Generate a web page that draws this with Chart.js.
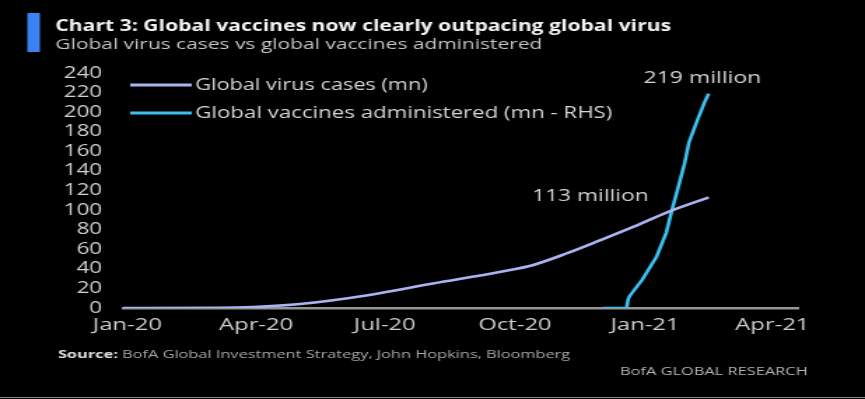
<!DOCTYPE html>
<html>
<head>
<meta charset="utf-8">
<script src="https://cdn.jsdelivr.net/npm/chart.js@4.4.1/dist/chart.umd.min.js"></script>
<style>
  html, body { margin: 0; padding: 0; background: #000; overflow: hidden; }
  #wrap { position: absolute; left: 0; top: 0; transform-origin: 0 0; }
  #edge { position: absolute; left: 0; top: 397px; width: 865px; height: 1px; background: #8a8a8a; }
</style>
</head>
<body>
<div id="wrap"><canvas id="c"></canvas></div>
<div id="edge"></div>
<script>
// ---- data ----
const caseDates = ["2019-12-29", "2020-03-05", "2020-03-30", "2020-05-02", "2020-06-19", "2020-08-04",
    "2020-09-21", "2020-10-14", "2020-11-07", "2020-11-30", "2020-12-24", "2021-01-17", "2021-02-15"];
const caseValues = [0, 0.2, 1, 4, 13, 25, 37, 44, 56, 69, 83, 98, 113];

const vaccineDates = ["2020-12-02", "2020-12-19", "2020-12-20", "2020-12-21", "2020-12-30", "2021-01-09",
    "2021-01-16", "2021-01-20", "2021-01-24", "2021-01-29", "2021-02-01", "2021-02-07", "2021-02-12",
    "2021-02-15"];
const vaccineValues = [0, 0, 9, 12, 29, 52, 77, 100, 121, 148, 169, 192, 210, 219];

const seriesNames = ["Global virus cases (mn)", "Global vaccines administered (mn - RHS)"];
const endLabels = ["113 million", "219 million"];

const tickDates = ["2020-01-01", "2020-04-01", "2020-07-01", "2020-10-01", "2021-01-01", "2021-04-01"];
const tickLabels = ["Jan-20", "Apr-20", "Jul-20", "Oct-20", "Jan-21", "Apr-21"];
const yTicks = [0, 20, 40, 60, 80, 100, 120, 140, 160, 180, 200, 220, 240];

const titleText = "Chart 3: Global vaccines now clearly outpacing global virus";
const subtitleText = "Global virus cases vs global vaccines administered";
const sourceLead = "Source:";
const sourceText = " BofA Global Investment Strategy, John Hopkins, Bloomberg";
const brandText = "BofA GLOBAL RESEARCH";

// the original image is stretched sideways, so draw narrow and stretch the canvas
const W = 618, H = 399, SX = 865 / W;
const FONT = "'Open Sans', 'DejaVu Sans', sans-serif";

// days since 1 Jan 2020
function dayOf(s) {
    const [y, m, d] = s.split("-").map(Number);
    return (Date.UTC(y, m - 1, d) - Date.UTC(2020, 0, 1)) / 864e5;
}
const toPoints = (dates, vals) => dates.map((d, i) => ({ x: dayOf(d), y: vals[i] }));
const tickDays = tickDates.map(dayOf);

const canvas = document.getElementById("c");
canvas.width = W;
canvas.height = H;
const wrap = document.getElementById("wrap");
wrap.style.width = W + "px";
wrap.style.height = H + "px";
wrap.style.transform = `scaleX(${SX})`;

// draw text squeezed/stretched to a given width (in canvas units)
function fitText(ctx, text, x, y, targetW, align) {
    const w = ctx.measureText(text).width;
    const k = targetW / w;
    ctx.save();
    ctx.translate(x, y);
    ctx.scale(k, 1);
    ctx.textAlign = align || "left";
    ctx.fillText(text, 0, 0);
    ctx.restore();
}

const decor = {
    id: "decor",
    afterDraw(chart) {
        const ctx = chart.ctx;
        ctx.save();
        ctx.textBaseline = "middle";

        // title block
        ctx.fillStyle = "#3b82f2";
        ctx.fillRect(19.5, 13, 9, 39);
        ctx.fillStyle = "#f2f2f2";
        ctx.font = `bold 16px ${FONT}`;
        fitText(ctx, titleText, 39.5, 26, 440);
        ctx.fillStyle = "#c4c4c4";
        ctx.font = `15px ${FONT}`;
        fitText(ctx, subtitleText, 39.5, 45, 348);

        // legend inside the plot
        const ds = chart.data.datasets;
        const legendY = [85, 113];
        const legendW = [166, 298];
        ds.forEach((d, i) => {
            ctx.strokeStyle = d.borderColor;
            ctx.lineWidth = 3;
            ctx.beginPath();
            ctx.moveTo(93, legendY[i]);
            ctx.lineTo(137, legendY[i]);
            ctx.stroke();
            ctx.fillStyle = "#d6d6d6";
            ctx.font = `16px ${FONT}`;
            fitText(ctx, d.label, 139.5, legendY[i], legendW[i]);
        });

        // end-of-line labels
        ctx.fillStyle = "#d6d6d6";
        ctx.font = `16px ${FONT}`;
        const m0 = chart.getDatasetMeta(0).data;
        const p0 = m0[m0.length - 1];
        fitText(ctx, endLabels[0], p0.x - 43, p0.y - 1, 83, "right");
        const m1 = chart.getDatasetMeta(1).data;
        const p1 = m1[m1.length - 1];
        ctx.save();
        ctx.translate(p1.x - 4.5, p1.y - 15);
        const w1 = ctx.measureText(endLabels[1]).width;
        ctx.scale(84 / w1, 1);
        ctx.textAlign = "center";
        ctx.fillText(endLabels[1], 0, 0);
        ctx.restore();

        // source line
        ctx.font = `bold 11px ${FONT}`;
        const wLead = ctx.measureText(sourceLead).width;
        ctx.font = `11px ${FONT}`;
        const wRest = ctx.measureText(sourceText).width;
        const k = 366 / (wLead + wRest);
        ctx.save();
        ctx.translate(41.4, 355);
        ctx.scale(k, 1);
        ctx.fillStyle = "#e0e0e0";
        ctx.font = `bold 11px ${FONT}`;
        ctx.fillText(sourceLead, 0, 0);
        ctx.fillStyle = "#a8a8a8";
        ctx.font = `11px ${FONT}`;
        ctx.fillText(sourceText, wLead, 0);
        ctx.restore();
        ctx.fillStyle = "#b4b4b4";
        ctx.font = `11px ${FONT}`;
        fitText(ctx, brandText, 443, 372, 134);

        ctx.restore();
    },
};

new Chart(canvas, {
    type: "line",
    data: {
        datasets: [
            {
                label: seriesNames[0],
                data: toPoints(caseDates, caseValues),
                borderColor: "#aab4f2",
                borderWidth: 2.6,
                pointRadius: 0,
                cubicInterpolationMode: "monotone",
            },
            {
                label: seriesNames[1],
                data: toPoints(vaccineDates, vaccineValues),
                borderColor: "#3cc0f0",
                borderWidth: 2.6,
                pointRadius: 0,
                tension: 0,
            },
        ],
    },
    options: {
        responsive: false,
        animation: false,
        layout: { padding: { top: 73, right: 48, left: 0, bottom: 0 } },
        plugins: {
            legend: { display: false },
            tooltip: { enabled: false },
        },
        scales: {
            x: {
                type: "linear",
                min: -3,
                max: 474,
                afterFit: (s) => { s.height = 91; },
                afterBuildTicks: (s) => { s.ticks = tickDays.map((v) => ({ value: v })); },
                grid: { display: false, drawTicks: false },
                border: { display: true, color: "#949494", width: 2.5 },
                ticks: {
                    autoSkip: false,
                    maxRotation: 0,
                    padding: 7,
                    color: "#cfcfcf",
                    font: { family: FONT, size: 17 },
                    callback: (v) => tickLabels[tickDays.indexOf(v)] ?? "",
                },
            },
            y: {
                min: 0,
                max: 240,
                afterFit: (s) => { s.width = 88; },
                afterBuildTicks: (s) => { s.ticks = yTicks.map((v) => ({ value: v })); },
                grid: { display: false, drawTicks: false },
                border: { display: false },
                ticks: {
                    autoSkip: false,
                    padding: 15,
                    color: "#d2d2d2",
                    font: { family: FONT, size: 16 },
                },
            },
        },
    },
    plugins: [decor],
});
</script>
</body>
</html>
